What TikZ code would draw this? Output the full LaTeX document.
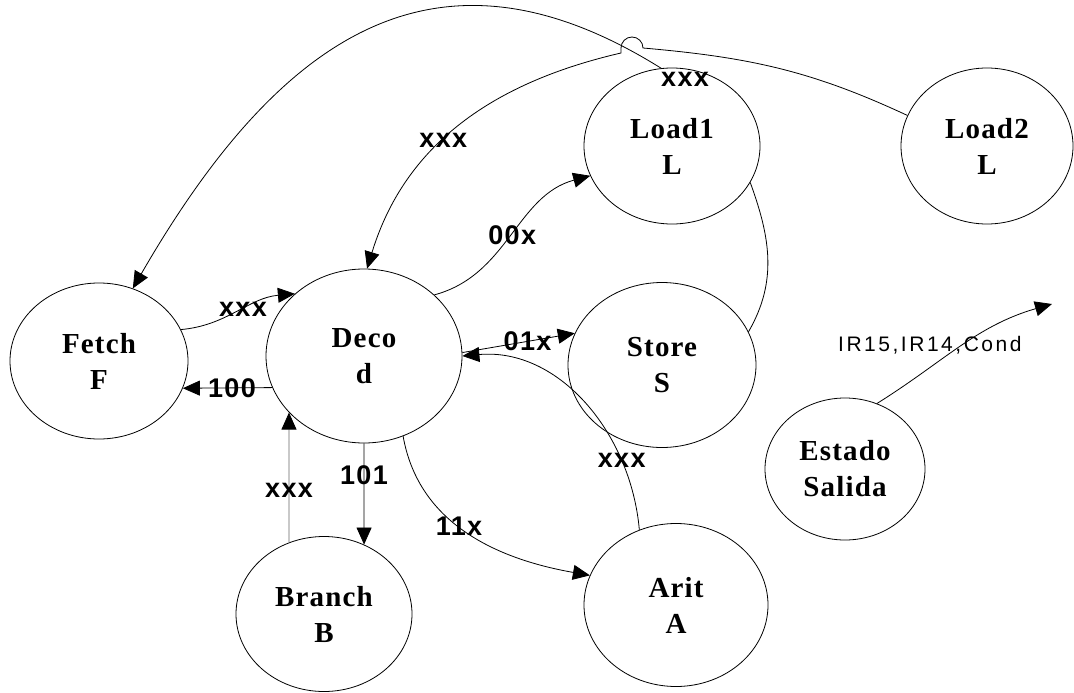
\documentclass[tikz,border=0pt]{standalone}
\usepackage{fontspec}
\setmainfont{Liberation Serif}
\newfontfamily\statefont[LetterSpace=4]{Liberation Serif}
\newfontfamily\lblfont[LetterSpace=5]{Liberation Sans}
\newfontfamily\iofont[LetterSpace=12]{Liberation Sans}
\usetikzlibrary{arrows.meta}
\usetikzlibrary{shapes.geometric}

\tikzset{
  state/.style={ellipse, draw, line width=0.8pt, inner sep=0pt, align=center,
    font=\statefont\bfseries\fontsize{29}{36}\selectfont},
  lbl/.style={font=\lblfont\bfseries\fontsize{27}{30}\selectfont, inner sep=0pt},
  iolbl/.style={font=\iofont\fontsize{21}{24}\selectfont, inner sep=0pt},
  tr/.style={line width=0.8pt, -{Triangle[length=17pt,width=15pt]}},
}

\begin{document}
\begin{tikzpicture}[x=1pt,y=1pt]
\useasboundingbox (0,0) rectangle (1074,-693);

% States
\node[state, minimum width=178pt, minimum height=156pt] (fetch) at (99,-361) {Fetch\\F};
\node[state, minimum width=196pt, minimum height=174pt] (deco) at (364,-356) {Deco\\d};
\node[state, minimum width=176pt, minimum height=156pt] (load1) at (672,-146) {Load1\\L};
\node[state, minimum width=172pt, minimum height=156pt] (load2) at (987,-146) {Load2\\L};
\node[state, minimum width=188pt, minimum height=165pt] (store) at (662,-365) {Store\\S};
\node[state, minimum width=160pt, minimum height=142pt] (salida) at (845,-469) {Estado\\Salida};
\node[state, minimum width=176pt, minimum height=155pt] (branch) at (324,-614) {Branch\\B};
\node[state, minimum width=184pt, minimum height=163pt] (arit) at (676,-605) {Arit\\A};

% Transitions
\draw[tr] (fetch.21) to[out=5, in=185] node[lbl, pos=0.55] {xxx} (deco.138);
\draw[tr] (deco.199) -- node[lbl, pos=0.45] {100} (fetch.-18);
\draw[tr] (deco.south) -- node[lbl, pos=0.31] {101} (branch.60);
\draw[line width=0.8pt, black!60, -{Triangle[length=17pt,width=15pt,color=black]}]
  (branch.116) -- node[lbl, pos=0.4, black] {xxx} (deco.217);
\draw[tr] (deco.-64) to[out=-80, in=170] node[lbl, pos=0.45] {11x} (arit.161);
\draw[tr] (arit.116) to[out=95, in=5] node[lbl, pos=0.25] {xxx} (deco.0);
\draw[tr] (deco.2) -- node[lbl, pos=0.58] {01x} (store.160);
\draw[tr] (deco.41) to[out=15, in=195] node[lbl, pos=0.5] {00x} (load1.200);

% Load2 back to Deco, jumping over the Load1 line
\coordinate (jumpR) at (643,-48);
\coordinate (jumpL) at (621,-53);
\draw[tr] (load2.159) to[out=155, in=-5] (jumpR)
  arc[start angle=0, end angle=180, radius=11pt] -- (jumpL)
  to[out=193, in=73] node[lbl, pos=0.57] {xxx} (deco.88);

% Load1 back to Fetch
\draw[tr] (load1.98) .. controls +(148:260pt) and +(60:300pt) .. (fetch.65)
  node[lbl, pos=0, xshift=24pt, yshift=-11.5pt] {xxx};

\draw[line width=0.8pt] (load1.-25) to[out=-70, in=60] (store.21);

% Output of the state
\coordinate (outp) at (1052,-304);
\draw[tr] (salida.64) to[out=32, in=196] node[iolbl, pos=0.3, yshift=22pt] {IR15,IR14,Cond} (outp);

\end{tikzpicture}
\end{document}
